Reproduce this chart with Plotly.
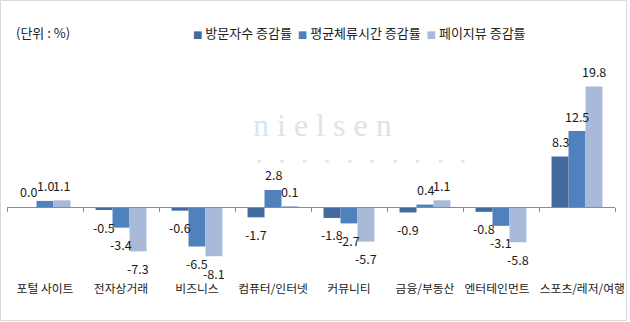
import plotly.graph_objects as go

# 업종별 증감률 (단위: %)
categories = ["포털 사이트", "전자상거래", "비즈니스", "컴퓨터/인터넷",
              "커뮤니티", "금융/부동산", "엔터테인먼트", "스포츠/레저/여행"]
series_names = ["방문자수 증감률", "평균체류시간 증감률", "페이지뷰 증감률"]
visitors = [0.0, -0.5, -0.6, -1.7, -1.8, -0.9, -0.8, 8.3]
duration = [1.0, -3.4, -6.5, 2.8, -2.7, 0.4, -3.1, 12.5]
pageviews = [1.1, -7.3, -8.1, 0.1, -5.7, 1.1, -5.8, 19.8]
colors = ["#426a9c", "#4f81bd", "#a9bad9"]

series = [visitors, duration, pageviews]

W, H = 630, 322
M = dict(l=7, r=15, t=55, b=46)
plot_w = W - M["l"] - M["r"]
plot_h = H - M["t"] - M["b"]
y_range = [-11.35, 25.0]
bargap = 0.33
FONT = "Noto Sans CJK KR, Malgun Gothic, sans-serif"
NB = "\u00a0"


def px_x(px):
    return (px - M["l"]) / plot_w


def px_y(py):
    return (H - M["b"] - py) / plot_h


fig = go.Figure()
for name, vals, col in zip(series_names, series, colors):
    fig.add_trace(go.Bar(x=categories, y=vals, name=name, marker_color=col,
                         marker_line_width=0, showlegend=False))

# invisible helper trace so the overlaid axis at y=0 knows the categories
fig.add_trace(go.Scatter(x=categories, y=[0] * len(categories), xaxis="x2",
                         mode="none", hoverinfo="skip", showlegend=False))

# value labels, one per bar
cat_px = plot_w / len(categories)
bar_px = cat_px * (1 - bargap) / len(series)
annotations = []
for i, vals in enumerate(series):
    for cat, v in zip(categories, vals):
        annotations.append(dict(
            x=cat, y=v, xref="x", yref="y", text=f"{v:.1f}", showarrow=False,
            xshift=(i - 1) * bar_px, yshift=15 if v >= 0 else -17,
            font=dict(family=FONT, size=12.5, color="#1a1a1a")))

# unit note
annotations.append(dict(x=px_x(14), y=px_y(33), xref="paper", yref="paper",
                        xanchor="left", yanchor="middle", showarrow=False,
                        text="(단위 : %)",
                        font=dict(family=FONT, size=13, color="#222222")))

# legend row
legend_text = (NB * 2).join(
    f"<span style='color:{c};font-family:DejaVu Sans;font-size:10px'>■</span>{NB}{n}"
    for n, c in zip(series_names, colors))
annotations.append(dict(x=px_x(191), y=px_y(33), xref="paper", yref="paper",
                        xanchor="left", yanchor="middle", showarrow=False,
                        text=legend_text,
                        font=dict(family=FONT, size=13, color="#222222")))

# watermark
annotations.append(dict(x=px_x(251), y=px_y(125), xref="paper", yref="paper",
                        xanchor="left", yanchor="middle", showarrow=False,
                        text=f"<span style='color:#d3e9f3'>n</span>{NB}i{NB}e{NB}l{NB}s{NB}e{NB}n",
                        font=dict(family="Liberation Serif", size=32, color="#e2e2e2")))
annotations.append(dict(x=px_x(255), y=px_y(161), xref="paper", yref="paper",
                        xanchor="left", yanchor="middle", showarrow=False,
                        text=(NB * 5).join(["•"] * 10),
                        font=dict(family="Liberation Sans", size=13, color="#e6e6e6")))

# category tick texts; the last two get a little padding so they don't touch
tick_text = list(categories)
tick_text[-2] = tick_text[-2] + NB * 3
tick_text[-1] = NB * 4 + tick_text[-1]

zero_pos = (0 - y_range[0]) / (y_range[1] - y_range[0])

fig.update_layout(
    width=W, height=H, margin=M,
    paper_bgcolor="white", plot_bgcolor="white",
    barmode="group", bargap=bargap, bargroupgap=0,
    xaxis=dict(type="category", range=[-0.5, 7.5], showline=False, ticks="",
               showgrid=False, zeroline=False, tickangle=0, automargin=False,
               ticklabelstandoff=4, tickmode="array",
               tickvals=categories, ticktext=tick_text,
               tickfont=dict(family=FONT, size=11.8, color="#1a1a1a")),
    xaxis2=dict(type="category", range=[-0.5, 7.5], overlaying="x",
                anchor="free", position=zero_pos, side="bottom",
                showline=True, linecolor="#8c8c8c", linewidth=1,
                ticks="outside", tickson="boundaries", ticklen=4,
                tickcolor="#8c8c8c", showticklabels=False, showgrid=False,
                zeroline=False, automargin=False),
    yaxis=dict(range=y_range, visible=False, showgrid=False, zeroline=False,
               automargin=False),
    annotations=annotations,
    shapes=[dict(type="rect", xref="paper", yref="paper",
                 x0=px_x(0.5), x1=px_x(626.5), y0=px_y(320.5), y1=px_y(0.5),
                 line=dict(color="#d9d9d9", width=1), layer="below")],
    showlegend=False,
)

fig.write_html("out.html")
